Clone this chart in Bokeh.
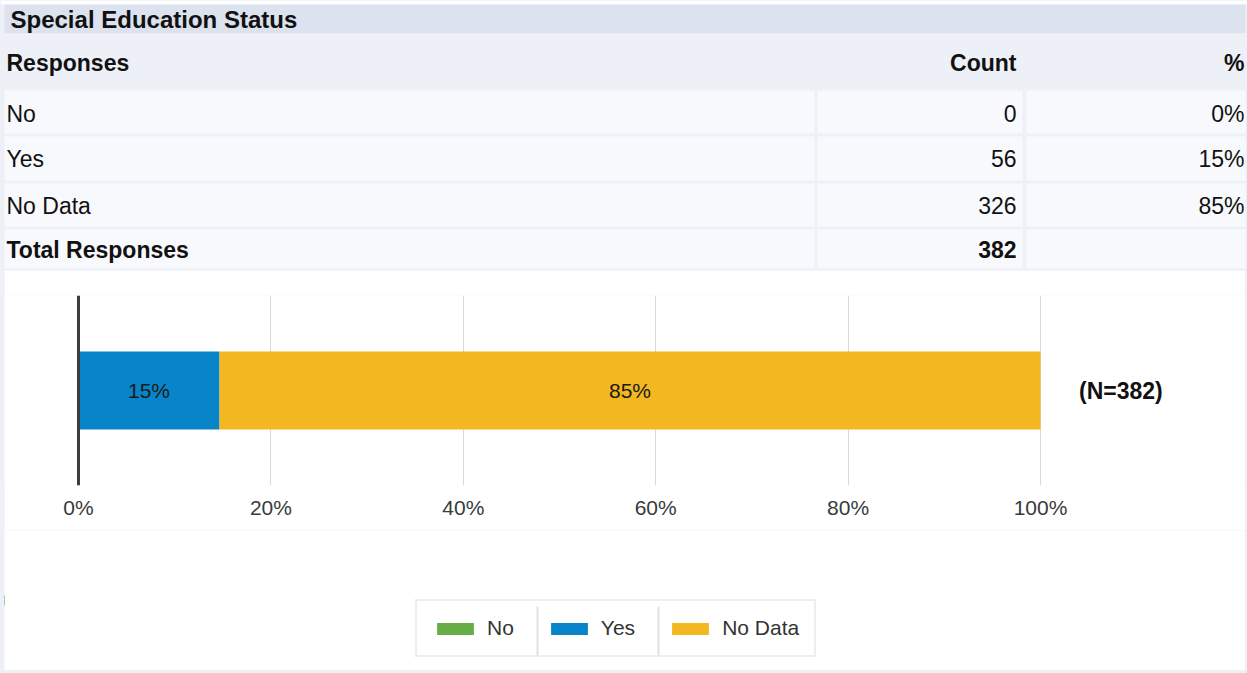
from bokeh.plotting import figure
from bokeh.models import (Range1d, FactorRange, FixedTicker, Span, Legend, LegendItem,
                          ColumnDataSource, PrintfTickFormatter)
from bokeh.layouts import column
from bokeh.core.properties import value
from bokeh.embed import file_html
from bokeh.resources import INLINE

# ---------------- data ----------------
title = "Special Education Status"
header = ["Responses", "Count", "%"]
responses = ["No", "Yes", "No Data"]
counts = [0, 56, 326]
colors = ["#68ae47", "#0785c8", "#f3b71f"]
tick_values = [0, 20, 40, 60, 80, 100]
total_label = "Total Responses"

total = sum(counts)
pcts = [c / total * 100 for c in counts]
pct_labels = [f"{round(p)}%" for p in pcts]

FONT = "Liberation Sans"
GAP = "#edf0f6"
W = 1247
H1 = 270

# ---------------- table figure ----------------
t = figure(width=W, height=H1, x_range=Range1d(0, W), y_range=Range1d(H1, 0),
           output_backend="svg", toolbar_location=None, min_border=0,
           x_axis_location=None, y_axis_location=None)
t.grid.visible = False
t.outline_line_color = None
t.background_fill_color = GAP
t.border_fill_color = GAP

t.quad(left=[0], right=[W], top=[0], bottom=[4], color="white", line_color=None)
t.quad(left=[4], right=[1245], top=[4], bottom=[33], color="#dce2ee", line_color=None)
t.quad(left=[4], right=[1245], top=[33], bottom=[88], color="#edf0f7", line_color=None)

row_top = [90, 136, 183, 229]
row_bot = [133, 180, 226, 268]
col_l = [4, 817, 1026]
col_r = [814, 1022, 1245]
cl, cr, ct, cb = [], [], [], []
for i in range(4):
    for j in range(3):
        cl.append(col_l[j]); cr.append(col_r[j]); ct.append(row_top[i]); cb.append(row_bot[i])
t.quad(left=cl, right=cr, top=ct, bottom=cb, color="#f8f9fc", line_color=None)

t.text(x=[10], y=[19], text=[title], text_font=value(FONT), text_font_size="24px",
       text_font_style="bold", text_color="#111111", text_baseline="middle", text_align="left")
t.text(x=[6], y=[62], text=[header[0]], text_font=value(FONT), text_font_size="23px",
       text_font_style="bold", text_color="#111111", text_baseline="middle", text_align="left")
t.text(x=[1016, 1244], y=[62, 62], text=header[1:], text_font=value(FONT), text_font_size="23px",
       text_font_style="bold", text_color="#111111", text_baseline="middle", text_align="right")

row_y = [113, 158, 205]
t.text(x=[6] * 3, y=row_y, text=responses, text_font=value(FONT), text_font_size="23px",
       text_color="#111111", text_baseline="middle", text_align="left")
t.text(x=[1016] * 3, y=row_y, text=[str(c) for c in counts], text_font=value(FONT),
       text_font_size="23px", text_color="#111111", text_baseline="middle", text_align="right")
t.text(x=[1244] * 3, y=row_y, text=pct_labels, text_font=value(FONT),
       text_font_size="23px", text_color="#111111", text_baseline="middle", text_align="right")
t.text(x=[6], y=[249], text=[total_label], text_font=value(FONT), text_font_size="23px",
       text_font_style="bold", text_color="#111111", text_baseline="middle", text_align="left")
t.text(x=[1016], y=[249], text=[str(total)], text_font=value(FONT), text_font_size="23px",
       text_font_style="bold", text_color="#111111", text_baseline="middle", text_align="right")

# ---------------- chart figure ----------------
CW = 1241
px_per = 9.62
start = -74 / px_per
end = start + CW / px_per
c = figure(width=CW, height=260, x_range=Range1d(start, end),
           y_range=FactorRange(factors=[title]),
           output_backend="svg", toolbar_location=None,
           min_border_left=0, min_border_right=0, min_border_top=25, min_border_bottom=45,
           y_axis_location=None)
c.margin = (0, 2, 0, 4)
c.outline_line_color = None
c.background_fill_color = "white"
c.border_fill_color = "white"
c.ygrid.visible = False
c.xgrid.ticker = FixedTicker(ticks=tick_values)
c.xgrid.grid_line_color = "#d9d9d9"
c.xgrid.grid_line_width = 1

ax = c.xaxis[0]
ax.ticker = FixedTicker(ticks=tick_values)
ax.formatter = PrintfTickFormatter(format="%d%%")
ax.axis_line_color = None
ax.major_tick_line_color = None
ax.minor_tick_line_color = None
ax.major_label_text_font = FONT
ax.major_label_text_font_size = "21px"
ax.major_label_text_color = "#3a3a3a"
ax.major_label_standoff = 4

src_data = {"y": [title]}
for r, p in zip(responses, pcts):
    src_data[r] = [p]
src = ColumnDataSource(src_data)
rends = c.hbar_stack(responses, y="y", height=0.41, color=colors, line_color=None, source=src)

c.add_layout(Span(location=0, dimension="height", line_color="#3d3d3d", line_width=3))

lx, lt = [], []
cum = 0
for p, lab in zip(pcts, pct_labels):
    if p > 0:
        lx.append(cum + p / 2)
        lt.append(lab)
    cum += p
c.text(x=lx, y=[title] * len(lx), text=lt, text_font=value(FONT), text_font_size="21px",
       text_color="#1a1a1a", text_align="center", text_baseline="middle")
c.text(x=[104], y=[title], text=[f"(N={total})"], text_font=value(FONT), text_font_size="23px",
       text_font_style="bold", text_color="#111111", text_align="left", text_baseline="middle")

# ---------------- legend figure ----------------
lg = figure(width=CW, height=140, x_range=Range1d(4, 1245), y_range=Range1d(670, 530),
            output_backend="svg", toolbar_location=None, min_border=0,
            x_axis_location=None, y_axis_location=None)
lg.margin = (0, 2, 3, 4)
lg.grid.visible = False
lg.outline_line_color = None
lg.background_fill_color = "white"
lg.border_fill_color = "white"
# the series again, on an x range kept out of view, so the legend can show their swatches
lg.extra_x_ranges = {"series": Range1d(1000, 1100)}
lg_src = ColumnDataSource({r: [p] for r, p in zip(responses, pcts)})
swatches = lg.hbar_stack(responses, y=600, height=10, color=colors, line_color=None,
                         source=lg_src, x_range_name="series")
# item separators inside the legend box
lg.segment(x0=[537, 658], x1=[537, 658], y0=[606, 606], y1=[655, 655],
           line_color="#e2e2e2", line_width=2)

legend = Legend(items=[LegendItem(label=r, renderers=[rr]) for r, rr in zip(responses, swatches)],
                orientation="horizontal", location=(411, 13))
legend.glyph_width = 46
legend.glyph_height = 15
legend.label_text_font = FONT
legend.label_text_font_size = "21px"
legend.label_text_color = "#333333"
legend.label_standoff = 9
legend.spacing = 32
legend.padding = 15
legend.margin = 0
legend.border_line_color = "#dddddd"
legend.border_line_width = 2
legend.background_fill_alpha = 0
lg.add_layout(legend, "center")

layout = column(t, c, lg, spacing=0, styles={"background-color": GAP})
open("out.html", "w").write(file_html(layout, INLINE))
